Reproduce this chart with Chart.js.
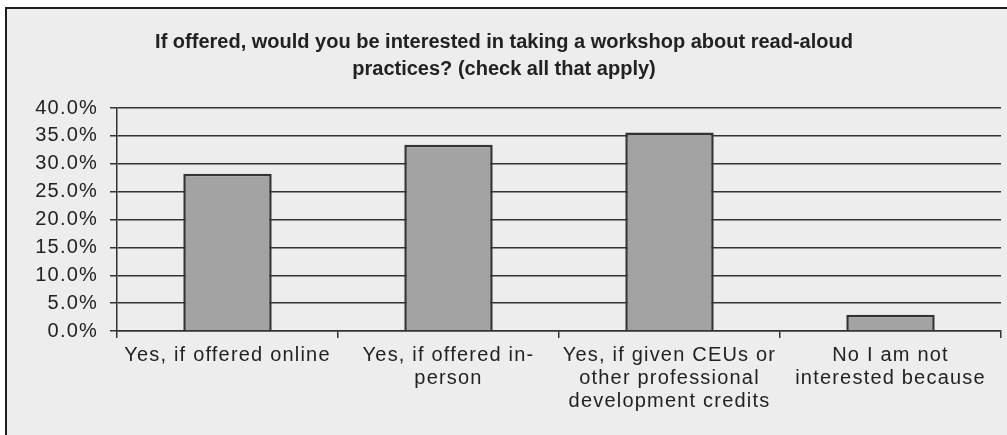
<!DOCTYPE html>
<html>
<head>
<meta charset="utf-8">
<script src="https://cdn.jsdelivr.net/npm/chart.js@4.4.1/dist/chart.umd.min.js"></script>
<style>
  html, body { margin: 0; padding: 0; background: #fff; overflow: hidden; }
  #frame {
    position: absolute; left: 5px; top: 7px;
    width: 1010px; height: 440px;
    border-left: 2px solid #1e1e1e; border-top: 2px solid #1e1e1e;
    background: #ededed;
  }
  #wrap { position: absolute; left: 0; top: 0; width: 1000px; height: 426px; }
</style>
</head>
<body>
<div id="frame"><div id="wrap"><canvas id="bars"></canvas></div></div>
<script>
const titleLines = [
    'If offered, would you be interested in taking a workshop about read-aloud',
    'practices? (check all that apply)'
];
const categories = [
    ['Yes, if offered online'],
    ['Yes, if offered in-', 'person'],
    ['Yes, if given CEUs or', 'other professional', 'development credits'],
    ['No I am not', 'interested because']
];
const percentages = [28.2, 33.4, 35.6, 2.9];

const ink = '#222';
const lineColor = '#333';
const gap = '1.2px';

// the reference text is a bit stretched, so widen the tick labels only
const spacing = {
    id: 'spacing',
    beforeUpdate(chart) { chart.ctx.letterSpacing = gap; },
    beforeDraw(chart) { chart.ctx.letterSpacing = gap; },
    afterLayout(chart) {
        const t = chart.titleBlock;
        if (t && !t._wrapped) {
            const draw = t.draw.bind(t);
            t.draw = function () {
                const ctx = chart.ctx;
                ctx.letterSpacing = '0px';
                draw();
                ctx.letterSpacing = gap;
            };
            t._wrapped = true;
        }
    }
};

const barConfig = {
    type: 'bar',
    data: {
        labels: categories,
        datasets: [{
            data: percentages,
            backgroundColor: '#a3a3a3',
            borderColor: '#333',
            borderWidth: 2.5,
            barPercentage: 0.4,
            categoryPercentage: 1
        }]
    },
    options: {
        responsive: true,
        maintainAspectRatio: false,
        animation: false,
        layout: { padding: { left: 0, right: 6, top: 0, bottom: 0 } },
        plugins: {
            legend: { display: false },
            tooltip: { enabled: false },
            title: {
                display: true,
                text: titleLines,
                color: ink,
                font: { family: '"Liberation Sans", Arial, sans-serif', size: 20, weight: 'bold', lineHeight: 1.35 },
                padding: { top: 20, bottom: 25 }
            }
        },
        scales: {
            x: {
                grid: { offset: true, drawOnChartArea: false, color: lineColor, lineWidth: 1.5, tickLength: 7 },
                border: { color: lineColor, width: 1.5 },
                ticks: {
                    color: ink,
                    maxRotation: 0,
                    autoSkip: false,
                    padding: 6,
                    font: { family: '"Liberation Sans", Arial, sans-serif', size: 20, lineHeight: 1.15 }
                },
                afterFit(scale) { scale.height = 104; }
            },
            y: {
                min: 0,
                max: 40,
                grid: { color: lineColor, lineWidth: 1.5, tickLength: 7 },
                border: { color: lineColor, width: 1.5 },
                ticks: {
                    stepSize: 5,
                    color: ink,
                    padding: 12,
                    font: { family: '"Liberation Sans", Arial, sans-serif', size: 20 },
                    callback: (v) => v.toFixed(1) + '%'
                },
                afterFit(scale) { scale.width = 110; }
            }
        }
    },
    plugins: [spacing]
};

const barsEl = document.getElementById('bars');
window.myBars = new Chart(barsEl, barConfig);
</script>
</body>
</html>
